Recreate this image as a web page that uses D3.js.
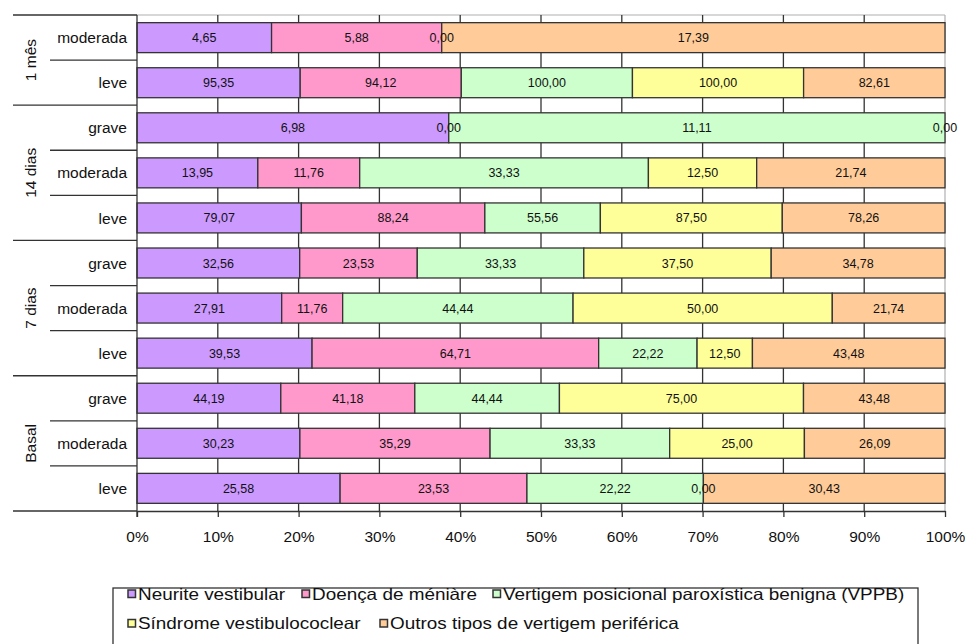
<!DOCTYPE html>
<html><head><meta charset="utf-8">
<script src="https://cdn.jsdelivr.net/npm/d3@7"></script>
<style>
html,body{margin:0;padding:0;background:#fff;}
svg{display:block;font-family:"Liberation Sans",Arial,Helvetica,sans-serif;}
</style></head>
<body><svg id="c" width="965" height="644"></svg>
<script>
// Data (top to bottom as drawn)
const groups = ["1 mês","14 dias","7 dias","Basal"];
const rowGroup = ["1 mês","1 mês","14 dias","14 dias","14 dias","7 dias","7 dias","7 dias","Basal","Basal","Basal"];
const rowSeverity = ["moderada","leve","grave","moderada","leve","grave","moderada","leve","grave","moderada","leve"];
const seriesNames = ["Neurite vestibular","Doença de méniàre","Vertigem posicional paroxística benigna (VPPB)","Síndrome vestibulococlear","Outros tipos de vertigem periférica"];
const neurite  = [4.65,95.35,6.98,13.95,79.07,32.56,27.91,39.53,44.19,30.23,25.58];
const doenca   = [5.88,94.12,0.00,11.76,88.24,23.53,11.76,64.71,41.18,35.29,23.53];
const vppb     = [0.00,100.00,11.11,33.33,55.56,33.33,44.44,22.22,44.44,33.33,22.22];
const sindrome = [0.00,100.00,0.00,12.50,87.50,37.50,50.00,12.50,75.00,25.00,0.00];
const outros   = [17.39,82.61,0.00,21.74,78.26,34.78,21.74,43.48,43.48,26.09,30.43];
const xTicks = [0,0.1,0.2,0.3,0.4,0.5,0.6,0.7,0.8,0.9,1.0];
const colors = ["#CC99FF","#FF99CC","#CCFFCC","#FFFF99","#FFCC99"];

const allSeries = [neurite,doenca,vppb,sindrome,outros];
const rows = rowSeverity.map((s,i)=>{
  const o = {id:i, group:rowGroup[i], sev:s};
  seriesNames.forEach((n,k)=>o[n]=allSeries[k][i]);
  return o;
});

const svg = d3.select("#c");
const L=137, R=945, T=15, B=511;
const x = d3.scaleLinear().domain([0,1]).range([L,R]);
const y = d3.scaleBand().domain(rows.map(r=>r.id)).range([T,B]).paddingInner(0.335).paddingOuter(0.17);
const color = d3.scaleOrdinal().domain(seriesNames).range(colors);

const stack = d3.stack().keys(seriesNames).offset(d3.stackOffsetExpand);
const stacked = stack(rows);

// plot border top/right (light)
svg.append("line").attr("x1",L).attr("x2",R).attr("y1",T).attr("y2",T).attr("stroke","#b0b0b0").attr("stroke-width",1.2);
svg.append("line").attr("x1",R).attr("x2",R).attr("y1",T).attr("y2",B).attr("stroke","#b0b0b0").attr("stroke-width",1.2);

// vertical gridlines
svg.append("g").selectAll("line").data(xTicks.slice(1,-1)).join("line")
  .attr("x1",d=>x(d)).attr("x2",d=>x(d)).attr("y1",T).attr("y2",B)
  .attr("stroke","#333").attr("stroke-width",1.3);

// bars
const layer = svg.append("g").selectAll("g").data(stacked).join("g").attr("fill",d=>color(d.key));
layer.selectAll("rect").data(d=>d).join("rect")
  .attr("x",d=>x(d[0])).attr("width",d=>Math.max(0,x(d[1])-x(d[0])))
  .attr("y",d=>y(d.data.id)).attr("height",y.bandwidth())
  .attr("stroke","#333").attr("stroke-width",1.3);

// data labels (coincident labels drawn once)
const lab = svg.append("g").attr("font-size",12.5).attr("fill","#111").attr("text-anchor","middle");
const seen = new Set();
stacked.forEach(s=>{
  s.forEach(d=>{
    const lx = (x(d[0])+x(d[1]))/2;
    const txt = d3.format(".2f")(d.data[s.key]).replace(".",",");
    const key = d.data.id+"|"+lx.toFixed(1)+"|"+txt;
    if(seen.has(key)) return;
    seen.add(key);
    lab.append("text")
      .attr("x",lx)
      .attr("y",y(d.data.id)+y.bandwidth()/2)
      .attr("dy","0.36em")
      .text(txt);
  });
});

// x axis
const xAxis = d3.axisBottom(x).tickValues(xTicks).tickFormat(d3.format(".0%")).tickSize(6).tickSizeOuter(0);
const ax = svg.append("g").attr("transform",`translate(0,${B})`).call(xAxis);
ax.select(".domain").attr("stroke","#333").attr("stroke-width",1.3);
ax.selectAll(".tick line").attr("stroke","#333").attr("stroke-width",1.3);
ax.selectAll(".tick text").attr("font-size",15.5).attr("font-family","Liberation Sans, Arial, sans-serif").attr("fill","#111").attr("dy","1.4em");

// left axis line
svg.append("line").attr("x1",L).attr("x2",L).attr("y1",T).attr("y2",B+6).attr("stroke","#333").attr("stroke-width",1.3);

// severity labels
svg.append("g").selectAll("text").data(rows).join("text")
  .attr("x",L-10).attr("y",d=>y(d.id)+y.bandwidth()/2).attr("dy","0.36em")
  .attr("text-anchor","end").attr("font-size",15.5).attr("fill","#111").text(d=>d.sev);

// separators
for(let i=0;i<=rows.length;i++){
  const yy = T + i*(B-T)/rows.length;
  const isGroup = i===0 || i===rows.length || rowGroup[i]!==rowGroup[i-1];
  svg.append("line").attr("x1",isGroup?13:50).attr("x2",L).attr("y1",yy).attr("y2",yy)
    .attr("stroke","#333").attr("stroke-width",1.3);
}

// group labels
groups.forEach(g=>{
  const idx = rows.filter(r=>r.group===g).map(r=>r.id);
  const y0 = T + d3.min(idx)*(B-T)/rows.length;
  const y1 = T + (d3.max(idx)+1)*(B-T)/rows.length;
  const cy = (y0+y1)/2;
  svg.append("text").attr("transform",`translate(30,${cy}) rotate(-90)`)
    .attr("text-anchor","middle").attr("dy","0.36em").attr("font-size",15.5).attr("fill","#111").text(g);
});

// legend
svg.append("rect").attr("x",113).attr("y",588).attr("width",805).attr("height",62)
  .attr("fill","none").attr("stroke","#333").attr("stroke-width",1.3);
const legPos = [[128,594],[302,594],[493,594],[128,623.5],[380,623.5]];
seriesNames.forEach((n,k)=>{
  const [lx,ly] = legPos[k];
  svg.append("rect").attr("x",lx).attr("y",ly-4).attr("width",7.5).attr("height",7.5)
    .attr("fill",colors[k]).attr("stroke","#333").attr("stroke-width",1.5);
  svg.append("text").attr("transform",`translate(${lx+10},${ly}) scale(1.16,1)`)
    .attr("dy","0.36em").attr("font-size",16.3).attr("fill","#111").text(n);
});
</script></body></html>
